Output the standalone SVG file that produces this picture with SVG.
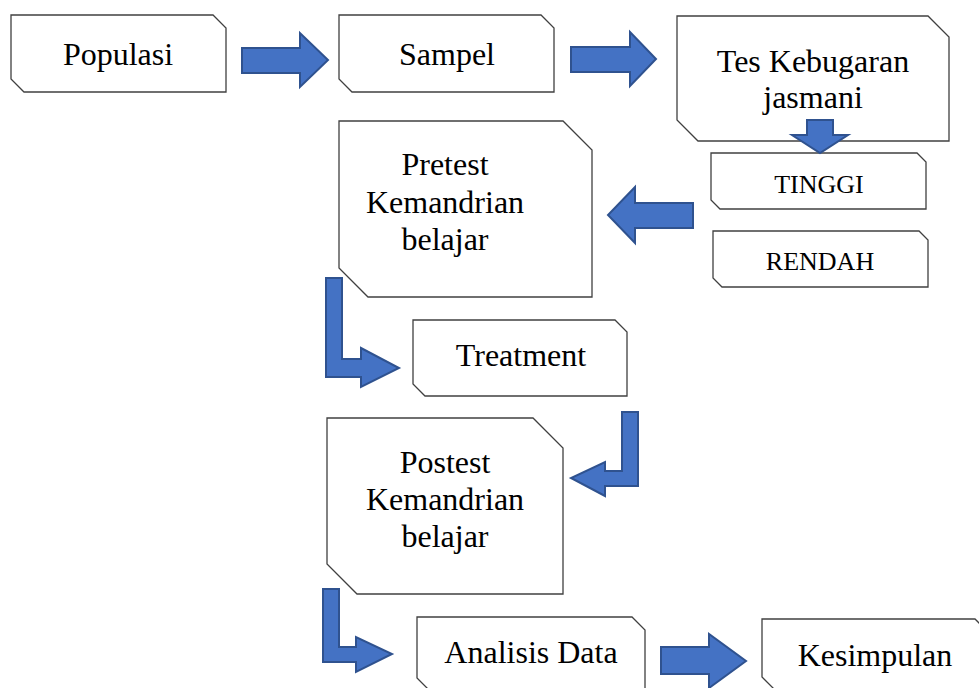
<svg xmlns="http://www.w3.org/2000/svg" width="979" height="688" viewBox="0 0 979 688">
<style>
.box{fill:#ffffff;stroke:#404040;stroke-width:1.3}
.t{font-family:"Liberation Serif","Times New Roman",serif;font-size:32px;fill:#000;text-anchor:middle}
.s{font-size:26px}
.arr{fill:#4472C4;stroke:#2F528F;stroke-width:2;stroke-linejoin:miter}
</style>
<rect width="979" height="688" fill="#ffffff"/>
<g id="populasi">
<path class="box" d="M11,15 H213 L226,28 V92 H24 L11,79 Z"/>
<text class="t" x="118" y="65">Populasi</text>
</g>
<g id="sampel">
<path class="box" d="M339,15 H541 L554,28 V92 H352 L339,79 Z"/>
<text class="t" x="447" y="65">Sampel</text>
</g>
<g id="tes">
<path class="box" d="M677,16 H928 L949,37 V141 H698 L677,120 Z"/>
<text class="t" x="813" y="72">Tes Kebugaran</text>
<text class="t" x="813" y="108">jasmani</text>
</g>
<g id="tinggi">
<path class="box" d="M711,153 H917 L926,162 V209 H720 L711,200 Z"/>
<text class="t s" x="819" y="193">TINGGI</text>
</g>
<g id="rendah">
<path class="box" d="M713,231 H919 L928,240 V287 H722 L713,278 Z"/>
<text class="t s" x="820" y="270">RENDAH</text>
</g>
<g id="pretest">
<path class="box" d="M339,121 H563 L592,150 V297 H368 L339,268 Z"/>
<text class="t" x="445" y="175">Pretest</text>
<text class="t" x="445" y="213">Kemandrian</text>
<text class="t" x="445" y="250">belajar</text>
</g>
<g id="treatment">
<path class="box" d="M413,320 H615 L627,332 V396 H425 L413,384 Z"/>
<text class="t" x="521" y="366">Treatment</text>
</g>
<g id="postest">
<path class="box" d="M327,418 H533 L563,448 V594 H357 L327,564 Z"/>
<text class="t" x="445" y="473">Postest</text>
<text class="t" x="445" y="510">Kemandrian</text>
<text class="t" x="445" y="547">belajar</text>
</g>
<g id="analisis">
<path class="box" d="M417,617 H632 L645,630 V691 H430 L417,678 Z"/>
<text class="t" x="531" y="663">Analisis Data</text>
</g>
<g id="kesimpulan">
<path class="box" d="M762,619 H975 L988,632 V690 H775 L762,677 Z"/>
<text class="t" x="875" y="666">Kesimpulan</text>
</g>
<g id="connectors">
<polygon class="arr" points="242,48 300,48 300,33 328,60 300,87 300,73 242,73"/>
<polygon class="arr" points="571,47 630,47 630,32 656,59 630,86 630,72 571,72"/>
<polygon class="arr" points="807,120 833,120 833,135 848,135 820,153 792,135 807,135"/>
<polygon class="arr" points="693,203 635,203 635,187 608,215 635,243 635,228 693,228"/>
<polygon class="arr" points="326,278 342,278 342,359 361,359 361,348 399,368 361,387 361,377 326,377"/>
<polygon class="arr" points="622,412 638,412 638,486 605,486 605,496 571,478 605,462 605,471 622,471"/>
<polygon class="arr" points="323,589 339,589 339,647 356,647 356,637 392,654 356,672 356,662 323,662"/>
<polygon class="arr" points="661,647 709,647 709,634 746,661 709,688 709,674 661,674"/>
</g>
</svg>
